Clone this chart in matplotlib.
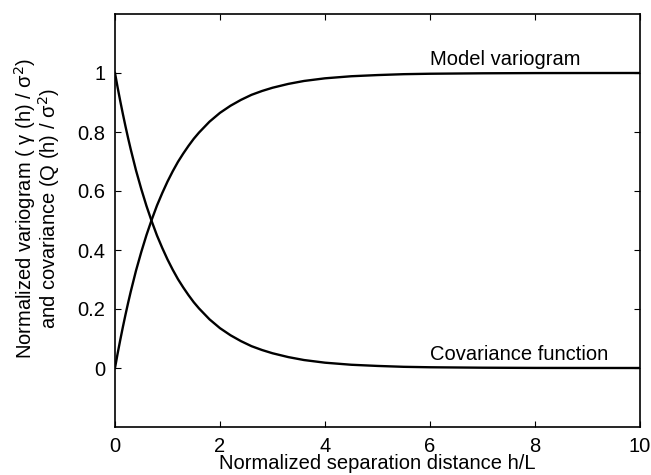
import matplotlib
matplotlib.use('Agg')
import matplotlib.pyplot as plt

plt.rcParams['font.family'] = ['Liberation Sans', 'DejaVu Sans']

# values
h = [0, 0.05, 0.1, 0.15, 0.2, 0.25, 0.3, 0.4, 0.5, 0.6, 0.7, 0.8, 0.9, 1.0,
     1.1, 1.2, 1.3, 1.4, 1.5, 1.6, 1.8, 2.0, 2.2, 2.4, 2.6, 2.8, 3.0, 3.3,
     3.6, 4.0, 4.5, 5.0, 5.5, 6.0, 7.0, 8.0, 9.0, 10.0]
covariance = [1.0, 0.951, 0.905, 0.861, 0.819, 0.779, 0.741, 0.670, 0.607,
              0.549, 0.497, 0.449, 0.407, 0.368, 0.333, 0.301, 0.273, 0.247,
              0.223, 0.202, 0.165, 0.135, 0.111, 0.091, 0.074, 0.061, 0.050,
              0.037, 0.027, 0.018, 0.011, 0.007, 0.004, 0.0025, 0.001,
              0.0003, 0.0001, 0.0]
variogram = [0.0, 0.049, 0.095, 0.139, 0.181, 0.221, 0.259, 0.330, 0.393,
             0.451, 0.503, 0.551, 0.593, 0.632, 0.667, 0.699, 0.727, 0.753,
             0.777, 0.798, 0.835, 0.865, 0.889, 0.909, 0.926, 0.939, 0.950,
             0.963, 0.973, 0.982, 0.989, 0.993, 0.996, 0.9975, 0.999,
             0.9997, 0.9999, 1.0]

xticks = [0, 2, 4, 6, 8, 10]
yticks = [0, 0.2, 0.4, 0.6, 0.8, 1]

fs = 14.5

fig = plt.figure(figsize=(6.51, 4.75), dpi=100)
ax = fig.add_axes([115/651, 48/475, 525/651, 413/475])

ax.plot(h, variogram, color='black', lw=1.7)
ax.plot(h, covariance, color='black', lw=1.7)

ax.text(6.0, 1.015, 'Model variogram', fontsize=fs, ha='left', va='bottom')
ax.text(6.0, 0.015, 'Covariance function', fontsize=fs, ha='left', va='bottom')

ax.set_xlim(0, 10)
ax.set_ylim(-0.2, 1.2)
ax.set_xticks(xticks)
ax.set_yticks(yticks)
ax.set_yticklabels(['0', '0.2', '0.4', '0.6', '0.8', '1'])
ax.tick_params(direction='in', top=True, right=True, labelsize=fs,
               length=4, width=0.8, pad=7)
for s in ax.spines.values():
    s.set_linewidth(1.2)

ax.set_xlabel('Normalized separation distance h/L', fontsize=fs, labelpad=-1)
ax.set_ylabel('Normalized variogram ( γ (h) / σ$^2$)\n'
              'and covariance (Q (h) / σ$^2$)', fontsize=fs,
              linespacing=0.95)
ax.yaxis.set_label_coords(-0.10, 0.53)

fig.savefig('out.png', dpi=100)
